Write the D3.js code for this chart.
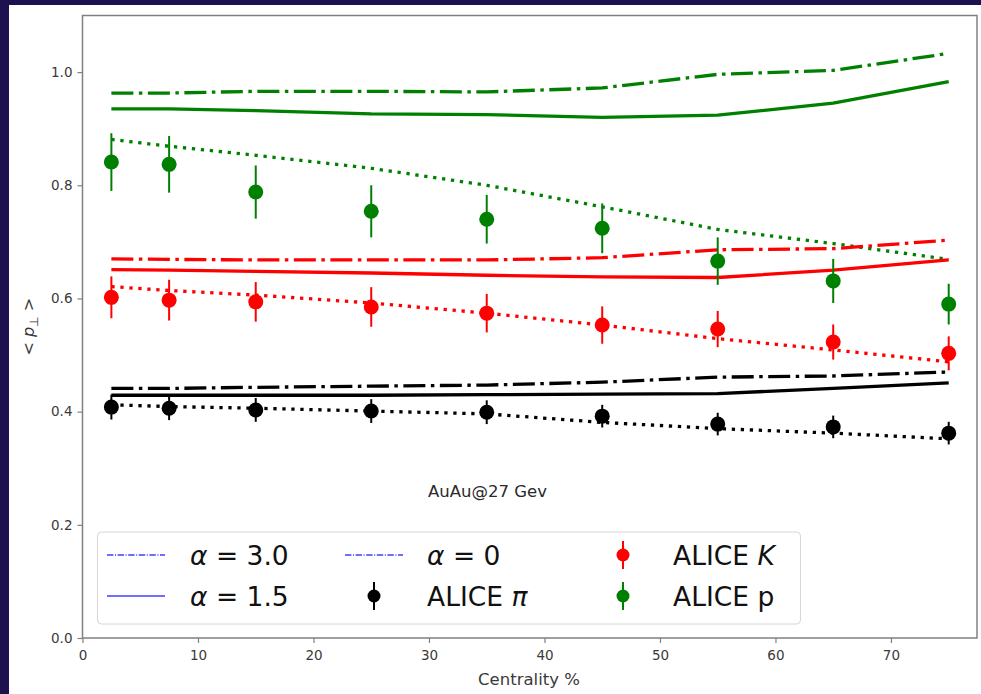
<!DOCTYPE html>
<html><head><meta charset="utf-8">
<script src="https://cdn.jsdelivr.net/npm/d3@7"></script>
<style>
html,body{margin:0;padding:0;background:#1e1150;}
svg{display:block;}
</style></head>
<body>
<svg id="chart" width="981" height="694"></svg>
<script>
// ---- data ----
const centrality = [2.5, 7.5, 15, 25, 35, 45, 55, 65, 75];
const xTicks = [0, 10, 20, 30, 40, 50, 60, 70];
const yTicks = [0.0, 0.2, 0.4, 0.6, 0.8, 1.0];

const piAlpha3 = [0.441, 0.441, 0.443, 0.445, 0.447, 0.452, 0.461, 0.463, 0.470];
const piAlpha15 = [0.429, 0.429, 0.429, 0.429, 0.430, 0.431, 0.432, 0.441, 0.451];
const piAlpha0 = [0.412, 0.409, 0.406, 0.401, 0.396, 0.381, 0.370, 0.362, 0.352];
const kAlpha3 = [0.670, 0.669, 0.668, 0.668, 0.668, 0.672, 0.686, 0.688, 0.703];
const kAlpha15 = [0.651, 0.650, 0.648, 0.645, 0.641, 0.638, 0.637, 0.650, 0.668];
const kAlpha0 = [0.621, 0.614, 0.606, 0.592, 0.574, 0.553, 0.529, 0.509, 0.488];
const pAlpha3 = [0.963, 0.963, 0.966, 0.966, 0.965, 0.972, 0.996, 1.003, 1.033];
const pAlpha15 = [0.935, 0.935, 0.932, 0.926, 0.925, 0.920, 0.924, 0.945, 0.983];
const pAlpha0 = [0.881, 0.869, 0.853, 0.830, 0.800, 0.762, 0.722, 0.697, 0.669];

const alicePi = [0.408, 0.406, 0.403, 0.401, 0.399, 0.392, 0.378, 0.373, 0.362];
const alicePiErr = [0.022, 0.021, 0.021, 0.021, 0.021, 0.020, 0.020, 0.020, 0.020];
const aliceK = [0.602, 0.597, 0.594, 0.585, 0.574, 0.553, 0.546, 0.523, 0.503];
const aliceKErr = [0.037, 0.036, 0.035, 0.035, 0.034, 0.033, 0.032, 0.031, 0.030];
const aliceP = [0.841, 0.837, 0.788, 0.754, 0.740, 0.724, 0.666, 0.631, 0.590];
const alicePErr = [0.051, 0.050, 0.047, 0.046, 0.043, 0.044, 0.042, 0.039, 0.036];

const svg = d3.select("#chart");
// white figure area inside navy frame
svg.append("rect").attr("x", 9).attr("y", 5).attr("width", 972).attr("height", 689).attr("fill", "#ffffff");

const padL = 82.5, padR = 977, padT = 15.5, padB = 638;
const x = d3.scaleLinear().domain([0, 77.45]).range([padL, padR]);
const y = d3.scaleLinear().domain([0, 1.1]).range([padB, padT]);

const font = "'DejaVu Sans', sans-serif";
const dashDot = "22,5.5,3.5,5.5";
const dotted = "3.3,5.7";

// model lines
const lineGen = d3.line().x((d, i) => x(centrality[i])).y(d => y(d));
const modelLines = [
  {v: pAlpha3, c: "#008000", dash: dashDot},
  {v: pAlpha15, c: "#008000", dash: null},
  {v: pAlpha0, c: "#008000", dash: dotted},
  {v: kAlpha3, c: "#ff0000", dash: dashDot},
  {v: kAlpha15, c: "#ff0000", dash: null},
  {v: kAlpha0, c: "#ff0000", dash: dotted},
  {v: piAlpha3, c: "#000000", dash: dashDot},
  {v: piAlpha15, c: "#000000", dash: null},
  {v: piAlpha0, c: "#000000", dash: dotted}
];
modelLines.forEach(m => {
  svg.append("path").attr("d", lineGen(m.v)).attr("fill", "none")
    .attr("stroke", m.c).attr("stroke-width", 3.3)
    .attr("stroke-dasharray", m.dash);
});

// data points with error bars
const dataSets = [
  {v: alicePi, e: alicePiErr, c: "#000000"},
  {v: aliceK, e: aliceKErr, c: "#ff0000"},
  {v: aliceP, e: alicePErr, c: "#008000"}
];
dataSets.forEach(s => {
  const g = svg.append("g");
  g.selectAll("line").data(s.v).join("line")
    .attr("x1", (d, i) => x(centrality[i])).attr("x2", (d, i) => x(centrality[i]))
    .attr("y1", (d, i) => y(d - s.e[i])).attr("y2", (d, i) => y(d + s.e[i]))
    .attr("stroke", s.c).attr("stroke-width", 2);
  g.selectAll("circle").data(s.v).join("circle")
    .attr("cx", (d, i) => x(centrality[i])).attr("cy", d => y(d))
    .attr("r", 7.5).attr("fill", s.c);
});

// axes
const axisColor = "#808080";
const xAxis = svg.append("g").attr("transform", `translate(0,${padB})`)
  .call(d3.axisBottom(x).tickValues(xTicks).tickFormat(d3.format("d")).tickSizeOuter(0).tickSize(5));
const yAxis = svg.append("g").attr("transform", `translate(${padL},0)`)
  .call(d3.axisLeft(y).tickValues(yTicks).tickFormat(d3.format(".1f")).tickSizeOuter(0).tickSize(5));
[xAxis, yAxis].forEach(a => {
  a.select(".domain").remove();
  a.selectAll(".tick line").attr("stroke", axisColor).attr("stroke-width", 1.2);
  a.selectAll(".tick text").attr("fill", "#3a3a3a").style("font-family", font).style("font-size", "13.5px");
});
xAxis.selectAll(".tick text").attr("dy", "1.05em");
yAxis.selectAll(".tick text").attr("dx", "-2");

// frame
svg.append("rect").attr("x", padL).attr("y", padT).attr("width", padR - padL).attr("height", padB - padT)
  .attr("fill", "none").attr("stroke", axisColor).attr("stroke-width", 1.5);

// axis labels
svg.append("text").attr("x", 529).attr("y", 685).attr("text-anchor", "middle")
  .style("font-family", font).style("font-size", "16.5px").attr("fill", "#3a3a3a").text("Centrality %");
const yl = svg.append("text").attr("transform", `translate(34,${(padT + padB) / 2}) rotate(-90)`)
  .attr("text-anchor", "middle").style("font-family", font).style("font-size", "16px").attr("fill", "#3a3a3a");
yl.append("tspan").text("< ");
yl.append("tspan").style("font-style", "italic").text("p");
yl.append("tspan").attr("dy", 4).style("font-size", "12px").text("⊥");
yl.append("tspan").attr("dy", -4).text(" >");

// annotation
svg.append("text").attr("x", 428).attr("y", 497).attr("text-anchor", "start")
  .style("font-family", font).style("font-size", "16.5px").attr("fill", "#2a2a2a").text("AuAu@27 Gev");

// legend
const lg = svg.append("g");
lg.append("rect").attr("x", 97.5).attr("y", 532).attr("width", 703).attr("height", 92).attr("rx", 4)
  .attr("fill", "#ffffff").attr("fill-opacity", 0.8).attr("stroke", "#d6d6d6").attr("stroke-width", 1);
const legBlue = "#4040ff";
const row1 = 555, row2 = 596;
const legLines = [
  {x1: 107, y: row1, dash: "6.4,1.6,1,1.6"},
  {x1: 107, y: row2, dash: null},
  {x1: 345, y: row1, dash: "6.4,1.6,1,1.6"}
];
legLines.forEach(l => {
  lg.append("line").attr("x1", l.x1).attr("x2", l.x1 + 58).attr("y1", l.y).attr("y2", l.y)
    .attr("stroke", legBlue).attr("stroke-width", 1.6).attr("stroke-dasharray", l.dash);
});
const legMarkers = [
  {cx: 374, cy: row2, c: "#000000"},
  {cx: 623, cy: row1, c: "#ff0000"},
  {cx: 623, cy: row2, c: "#008000"}
];
legMarkers.forEach(m => {
  lg.append("line").attr("x1", m.cx).attr("x2", m.cx).attr("y1", m.cy - 14).attr("y2", m.cy + 14)
    .attr("stroke", m.c).attr("stroke-width", 2);
  lg.append("circle").attr("cx", m.cx).attr("cy", m.cy).attr("r", 6.5).attr("fill", m.c);
});
function legText(xp, yp, parts) {
  const t = lg.append("text").attr("x", xp).attr("y", yp + 10).style("font-family", font)
    .style("font-size", "26.5px").attr("fill", "#111");
  parts.forEach(p => t.append("tspan").style("font-style", p.i ? "italic" : "normal").text(p.t));
}
legText(190, row1, [{t: "α", i: true}, {t: " = 3.0"}]);
legText(190, row2, [{t: "α", i: true}, {t: " = 1.5"}]);
legText(427, row1, [{t: "α", i: true}, {t: " = 0"}]);
legText(427, row2, [{t: "ALICE "}, {t: "π", i: true}]);
legText(673, row1, [{t: "ALICE "}, {t: "K", i: true}]);
legText(673, row2, [{t: "ALICE p"}]);
</script>
</body></html>
